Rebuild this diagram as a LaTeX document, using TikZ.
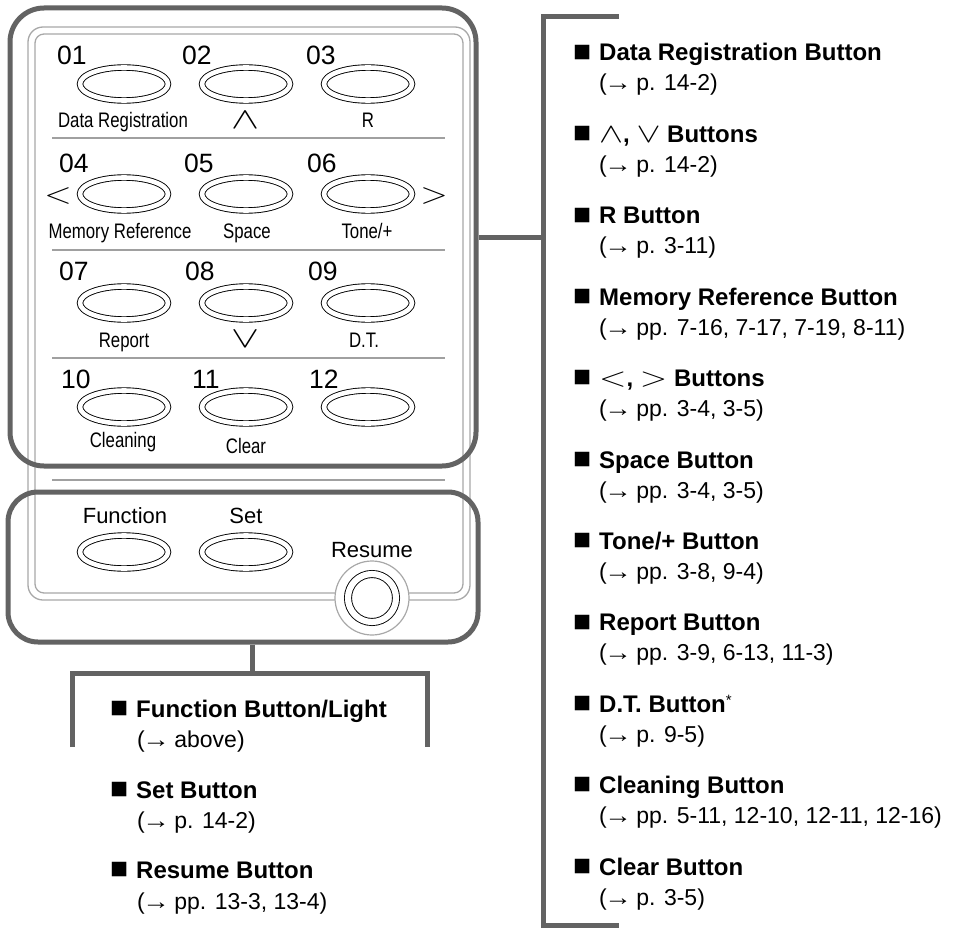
\RequirePackage{fix-cm}
\documentclass[tikz,border=0pt]{standalone}
\usepackage{fontspec}
\usepackage{graphicx}
\setmainfont{Liberation Sans}
\newfontfamily\narrowfont[FakeStretch=0.8]{Liberation Sans}
\usetikzlibrary{shapes.geometric}
\definecolor{framegray}{HTML}{636363}
\definecolor{panelgray}{HTML}{A8A8A8}
\definecolor{sepgray}{HTML}{A0A0A0}
\newcommand{\bul}{\makebox[26pt][l]{\fontsize{30}{30}\selectfont\raisebox{-0.3pt}{■}}}
\newcommand{\thinsym}[1]{{\mdseries\scalebox{1.5}[1.15]{$#1$}}}
\newcommand{\arr}{\kern-2.5pt\scalebox{1.2}[1]{→}\kern-2pt}
\tikzset{
 frame/.style={draw=framegray, line width=5pt, rounded corners=34pt, rectangle, inner sep=0},
 bracket/.style={draw=framegray, line width=5pt},
 panelline/.style={draw=panelgray, line width=1.3pt},
 sepline/.style={draw=sepgray, line width=2.5pt},
 btn/.style={ellipse, draw=black, line width=0.9pt, double=white, double distance=4.6pt, minimum width=88pt, minimum height=33pt, inner sep=0},
 num/.style={anchor=base west, inner sep=0, font=\fontsize{26.5}{26.5}\selectfont},
 plabel/.style={anchor=base, inner sep=0, font=\narrowfont\fontsize{21}{21}\selectfont},
 sym/.style={anchor=center, inner sep=0, font=\fontsize{30}{30}\selectfont},
 blabel/.style={anchor=base, inner sep=0, font=\fontsize{22}{22}\selectfont},
 title/.style={anchor=base west, inner sep=0, font=\bfseries\fontsize{24}{24}\selectfont},
 sub/.style={anchor=base west, inner sep=0, font=\fontsize{23}{23}\selectfont},
}
\begin{document}
\begin{tikzpicture}[x=1pt,y=-1pt]
\useasboundingbox (0,0) rectangle (960,928);
% panel double outline
\draw[panelline, rounded corners=15pt] (28,27) rectangle (470,600);
\draw[panelline, rounded corners=9pt] (35,34) rectangle (463,593);
% separators
\draw[sepline] (52,138) -- (445,138);
\draw[sepline] (52,250) -- (445,250);
\draw[sepline] (52,358) -- (445,358);
\draw[sepline] (52,480) -- (445,480);
% frames
\node[frame, minimum width=466pt, minimum height=458pt] (upper) at (243,237) {};
\node[frame, rounded corners=30pt, minimum width=470pt, minimum height=150pt] (lower) at (243,567) {};
% buttons
\foreach \c/\x in {1/124,2/246,3/368}{
  \node[btn] (r1c\c) at (\x,84) {};
  \node[btn] (r2c\c) at (\x,194) {};
  \node[btn] (r3c\c) at (\x,303) {};
  \node[btn] (r4c\c) at (\x,407) {};
}
\node[btn] (fn) at (124,552) {};
\node[btn] (set) at (246,552) {};
% resume
\node[circle, draw=panelgray, line width=1.2pt, fill=white, minimum size=74pt, inner sep=0] (resring) at (372,598) {};
\node[circle, draw=black, line width=0.9pt, double=white, double distance=6.2pt, minimum size=48pt, inner sep=0] (resume) at (372,598) {};
% numbers
\node[num] (n01) at (57,65) {01};
\node[num] (n02) at (182,65) {02};
\node[num] (n03) at (306,65) {03};
\node[num] (n04) at (59,172) {04};
\node[num] (n05) at (184,172) {05};
\node[num] (n06) at (307,172) {06};
\node[num] (n07) at (59,280) {07};
\node[num] (n08) at (185,280) {08};
\node[num] (n09) at (308,280) {09};
\node[num] (n10) at (61,388) {10};
\node[num] (n11) at (192,388) {11};
\node[num] (n12) at (309,388) {12};
% panel labels
\node[plabel] (l01) at (123,128) {Data Registration};
\node[sym] (l02) at (245,120) {\scalebox{1.4}[1]{$\wedge$}};
\node[plabel] (l03) at (368,128) {R};
\node[plabel] (l04) at (120,238) {Memory Reference};
\node[plabel] (l05) at (247,238) {Space};
\node[plabel] (l06) at (367,238) {Tone/+};
\node[sym] (lt) at (58,196) {\scalebox{1.2}[1]{$<$}};
\node[sym] (gt) at (434,196) {\scalebox{1.2}[1]{$>$}};
\node[plabel] (l07) at (124,347) {Report};
\node[sym] (l08) at (245,339) {\scalebox{1.4}[1]{$\vee$}};
\node[plabel] (l09) at (364,347) {D.T.};
\node[plabel] (l10) at (123,447) {Cleaning};
\node[plabel] (l11) at (246,453) {Clear};
\node[blabel] (lfn) at (125,523) {Function};
\node[blabel] (lset) at (246,523) {Set};
\node[blabel] (lres) at (372,557) {Resume};
% right bracket
\coordinate (rt) at (619,17);
\coordinate (rb) at (619,925);
\coordinate (rj) at (543,237);
\draw[bracket] (rt) -- (rt -| rj) -- (rb -| rj) -- (rb);
\draw[bracket] (upper.east) -- (upper.east -| rj);
% bottom bracket
\coordinate (bj) at (252,673);
\coordinate (bl) at (72,747);
\coordinate (br) at (427,747);
\draw[bracket] (bj |- lower.south) -- (bj);
\draw[bracket] (bl) -- (bl |- bj) -- (br |- bj) -- (br);
% right list
\node[title] (t1) at (573,61) {\bul Data Registration Button};
\node[sub] (s1) at (599,91) {(\arr\ p. 14-2)};
\node[title] (t2) at (573,142.4) {\bul\thinsym{\wedge}, \thinsym{\vee} Buttons};
\node[sub] (s2) at (599,172.4) {(\arr\ p. 14-2)};
\node[title] (t3) at (573,223.8) {\bul R Button};
\node[sub] (s3) at (599,253.8) {(\arr\ p. 3-11)};
\node[title] (t4) at (573,305.2) {\bul Memory Reference Button};
\node[sub] (s4) at (599,335.2) {(\arr\ pp. 7-16, 7-17, 7-19, 8-11)};
\node[title] (t5) at (573,386.6) {\bul\thinsym{<}, \thinsym{>} Buttons};
\node[sub] (s5) at (599,416.6) {(\arr\ pp. 3-4, 3-5)};
\node[title] (t6) at (573,468) {\bul Space Button};
\node[sub] (s6) at (599,498) {(\arr\ pp. 3-4, 3-5)};
\node[title] (t7) at (573,549.4) {\bul Tone/+ Button};
\node[sub] (s7) at (599,579.4) {(\arr\ pp. 3-8, 9-4)};
\node[title] (t8) at (573,630.8) {\bul Report Button};
\node[sub] (s8) at (599,660.8) {(\arr\ pp. 3-9, 6-13, 11-3)};
\node[title] (t9) at (573,712.2) {\bul D.T. Button{\mdseries\fontsize{15}{15}\selectfont\raisebox{7pt}{*}}};
\node[sub] (s9) at (599,742.2) {(\arr\ p. 9-5)};
\node[title] (t10) at (573,793.6) {\bul Cleaning Button};
\node[sub] (s10) at (599,823.6) {(\arr\ pp. 5-11, 12-10, 12-11, 12-16)};
\node[title] (t11) at (573,875) {\bul Clear Button};
\node[sub] (s11) at (599,905) {(\arr\ p. 3-5)};
% bottom list
\node[title] (f1) at (110,717) {\bul Function Button/Light};
\node[sub] (fs1) at (137,747) {(\arr\ above)};
\node[title] (f2) at (110,798) {\bul Set Button};
\node[sub] (fs2) at (137,828) {(\arr\ p. 14-2)};
\node[title] (f3) at (110,878) {\bul Resume Button};
\node[sub] (fs3) at (137,909) {(\arr\ pp. 13-3, 13-4)};
\end{tikzpicture}
\end{document}
